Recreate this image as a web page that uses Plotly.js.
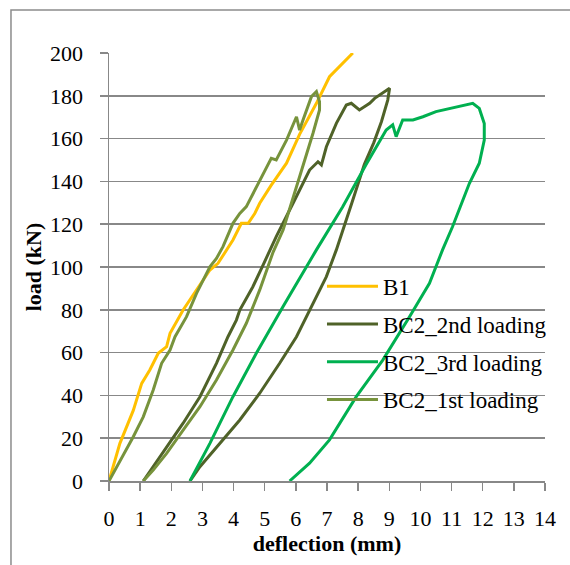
<!DOCTYPE html>
<html>
<head>
<meta charset="utf-8">
<script src="https://cdn.plot.ly/plotly-3.0.1.min.js"></script>
<style>
html,body{margin:0;padding:0;background:#fff;}
#chart{width:570px;height:565px;}
</style>
</head>
<body>
<div id="chart"></div>
<script>
// ---- data ----
const seriesNames = ["B1", "BC2_2nd loading", "BC2_3rd loading", "BC2_1st loading"];

const b1X = [0, 0.35, 0.78, 1.05, 1.31, 1.58, 1.85, 1.96, 2.38, 2.81, 3.24, 3.5, 3.77, 3.98, 4.25, 4.47, 4.68, 4.84, 5.2, 5.7, 6.12, 6.66, 7.08, 7.4, 7.83];
const b1Y = [0, 17.6, 33, 45.6, 51.9, 59.7, 62.8, 69, 79.9, 89.3, 98.6, 101.7, 108, 112.6, 120.4, 120.4, 125, 129.8, 138, 148.5, 162, 176.5, 188.9, 193.6, 200];

const bc2SecondX = [1.1, 1.85, 2.38, 2.92, 3.45, 3.82, 4.09, 4.2, 4.62, 4.95, 5.16, 5.37, 5.91, 6.44, 6.71, 6.82, 6.98, 7.3, 7.62, 7.78, 8.04, 8.37, 8.53, 8.79, 9.01,
                    8.95, 8.75, 8.5, 8.2, 7.8, 7.3, 6.98, 6.55, 6.02, 5.48, 4.84, 4.2, 3.45, 2.92, 2.6];
const bc2SecondY = [0, 16, 27, 39.4, 55, 67.4, 75.2, 79.9, 90.8, 101, 107.5, 114.2, 129.8, 145.3, 149.2, 147.7, 156.2, 167.1, 175.7, 176.5, 173.4, 176.5, 178.8, 181.2, 183.5,
                    178, 168, 158, 148, 130, 108, 95.5, 83, 67.4, 55, 41, 28.5, 16, 6.7, 0];

const bc2ThirdX = [2.6, 3.24, 3.98, 4.73, 5.59, 6.66, 7.5, 8.26, 8.9, 9.11, 9.22, 9.43, 9.76, 10.08, 10.5, 11.14, 11.68, 11.89, 12.05, 12.05, 11.89, 11.57, 11.03,
                   10.71, 10.5, 10.29, 9.65, 8.79, 7.94, 7.08, 6.44, 5.8];
const bc2ThirdY = [0, 17.6, 39.4, 59.7, 81.5, 108, 128, 148, 164, 166.4, 160.9, 168.7, 168.7, 170.2, 172.6, 174.9, 176.5, 174.1, 167.1, 159.3, 148.5, 139, 118.8,
                   108, 100.1, 92.4, 76.8, 56.5, 39.4, 19.2, 8.3, 0];

const bc2FirstX = [0, 0.78, 1.1, 1.42, 1.69, 1.96, 2.12, 2.49, 2.81, 3.24, 3.45, 3.66, 3.98, 4.2, 4.41, 4.73, 4.95, 5.21, 5.37, 5.7, 6.02, 6.12, 6.23, 6.5, 6.66, 6.76,
                   6.76, 6.55, 6.12, 5.59, 5.27, 4.84, 4.41, 3.98, 3.45, 2.92, 2.38, 1.85, 1.42, 1.1];
const bc2FirstY = [0, 20.7, 30, 42.5, 55, 61.2, 67.4, 76.8, 87.7, 100.1, 104, 109.5, 120.4, 125, 128.2, 137.5, 143.8, 150.8, 150, 159.3, 170.2, 164, 168.7, 179.6, 182, 177.2,
                   173.4, 162.5, 142.2, 117.3, 107, 89.3, 73.7, 61.2, 47.2, 34.7, 23.8, 12.9, 5.1, 0];

const xTickVals = [0,1,2,3,4,5,6,7,8,9,10,11,12,13,14];
const yTickVals = [0,20,40,60,80,100,120,140,160,180,200];

// ---- styling ----
const colors = ["#FFC000", "#4F6228", "#00B050", "#77933C"];
const serif = "Times";
const grey = "#888888";

const xs = [b1X, bc2SecondX, bc2ThirdX, bc2FirstX];
const ys = [b1Y, bc2SecondY, bc2ThirdY, bc2FirstY];

const traces = seriesNames.map((name, i) => ({
  type: "scatter",
  mode: "lines",
  name: name,
  x: xs[i],
  y: ys[i],
  legendgroup: "g" + i,
  line: {color: colors[i], width: 3}
}));

const layout = {
  width: 570,
  height: 565,
  margin: {l: 109, r: 25, t: 53, b: 84, pad: 0, autoexpand: false},
  paper_bgcolor: "#ffffff",
  plot_bgcolor: "rgba(0,0,0,0)",
  font: {family: serif, size: 22, color: "#000"},
  showlegend: true,
  legend: {
    x: 0.4885, xanchor: "left",
    y: 0.505, yanchor: "top",
    bgcolor: "rgba(0,0,0,0)",
    borderwidth: 0,
    itemwidth: 51,
    traceorder: "grouped",
    tracegroupgap: 4.8,
    font: {family: serif, size: 23, color: "#000"}
  },
  xaxis: {
    range: [0, 14],
    tickvals: xTickVals,
    ticks: "outside", ticklen: 8, tickwidth: 1.5, tickcolor: grey,
    showline: true, linecolor: grey, linewidth: 1.5,
    showgrid: false, zeroline: false,
    ticklabelstandoff: 9,
    tickfont: {family: serif, size: 22, color: "#000"},
    title: {text: "<b>deflection (mm)</b>", font: {family: serif, size: 22, color: "#000"}, standoff: 5},
    automargin: false
  },
  yaxis: {
    range: [0, 200],
    tickvals: yTickVals,
    ticks: "outside", ticklen: 8, tickwidth: 1.5, tickcolor: grey,
    showline: true, linecolor: grey, linewidth: 1.5,
    showgrid: true, gridcolor: grey, gridwidth: 1.5,
    zeroline: false,
    ticklabelstandoff: 12,
    tickfont: {family: serif, size: 22, color: "#000"},
    title: {text: "<b>load (kN)</b>", font: {family: serif, size: 22, color: "#000"}, standoff: 2},
    automargin: false
  },
  shapes: [{
    type: "rect", xref: "paper", yref: "paper", layer: "below",
    x0: -0.2248, x1: 1.3, y0: -0.5, y1: 1.1005,
    line: {color: "#8c8c8c", width: 1.5}, fillcolor: "rgba(0,0,0,0)"
  }]
};

Plotly.newPlot("chart", traces, layout, {displayModeBar: false, staticPlot: true});
</script>
</body>
</html>
